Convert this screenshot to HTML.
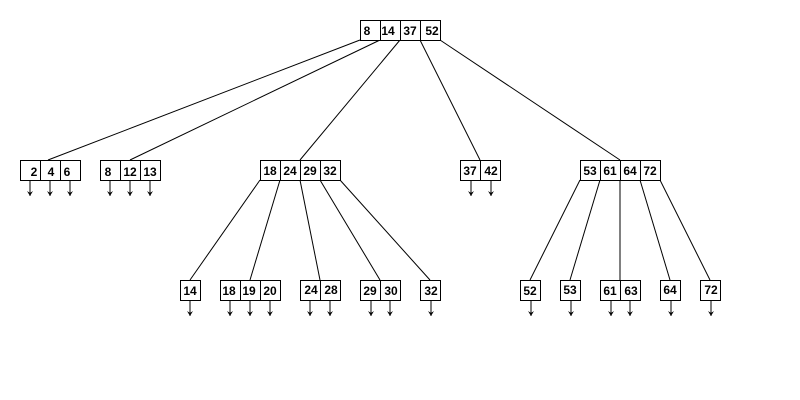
<!DOCTYPE html>
<html><head><meta charset="utf-8"><style>
html,body{margin:0;padding:0;background:#fff;}
svg{display:block}
text{font-family:"Liberation Sans",Arial,sans-serif;font-size:12px;font-weight:bold;fill:#000;text-anchor:middle}
</style></head><body>
<svg width="800" height="400" viewBox="0 0 800 400" xmlns="http://www.w3.org/2000/svg">
<defs><marker id="a" markerWidth="6" markerHeight="6" refX="5" refY="3" orient="auto" markerUnits="userSpaceOnUse"><path d="M0,0 L5,3 L0,6 L2,3 Z" fill="#000"/></marker></defs>
<g stroke="#000" stroke-width="1" fill="none">
<line x1="360" y1="40" x2="48" y2="160"/>
<line x1="380" y1="40" x2="130" y2="160"/>
<line x1="400" y1="40" x2="300" y2="160"/>
<line x1="420" y1="40" x2="480" y2="160"/>
<line x1="440" y1="40" x2="620" y2="160"/>
<line x1="260" y1="180" x2="190" y2="280"/>
<line x1="280" y1="180" x2="250" y2="280"/>
<line x1="300" y1="180" x2="320" y2="280"/>
<line x1="320" y1="180" x2="380" y2="280"/>
<line x1="340" y1="180" x2="430" y2="280"/>
<line x1="580" y1="180" x2="530" y2="280"/>
<line x1="600" y1="180" x2="570" y2="280"/>
<line x1="620" y1="180" x2="620" y2="280"/>
<line x1="640" y1="180" x2="670" y2="280"/>
<line x1="660" y1="180" x2="710" y2="280"/>
</g>
<g stroke="#000" fill="#fff" stroke-width="1">
<rect x="360.5" y="20.5" width="80" height="20"/>
<rect x="20.5" y="160.5" width="60" height="20"/>
<rect x="100.5" y="160.5" width="60" height="20"/>
<rect x="260.5" y="160.5" width="80" height="20"/>
<rect x="460.5" y="160.5" width="40" height="20"/>
<rect x="580.5" y="160.5" width="80" height="20"/>
<rect x="180.5" y="280.5" width="20" height="20"/>
<rect x="220.5" y="280.5" width="60" height="20"/>
<rect x="300.5" y="280.5" width="40" height="20"/>
<rect x="360.5" y="280.5" width="40" height="20"/>
<rect x="420.5" y="280.5" width="20" height="20"/>
<rect x="520.5" y="280.5" width="20" height="20"/>
<rect x="560.5" y="280.5" width="20" height="20"/>
<rect x="600.5" y="280.5" width="40" height="20"/>
<rect x="660.5" y="280.5" width="20" height="20"/>
<rect x="700.5" y="280.5" width="20" height="20"/>
</g>
<g stroke="#000" stroke-width="1">
<line x1="380.5" y1="20" x2="380.5" y2="40"/><line x1="400.5" y1="20" x2="400.5" y2="40"/><line x1="420.5" y1="20" x2="420.5" y2="40"/>
<line x1="40.5" y1="160" x2="40.5" y2="180"/><line x1="60.5" y1="160" x2="60.5" y2="180"/>
<line x1="120.5" y1="160" x2="120.5" y2="180"/><line x1="140.5" y1="160" x2="140.5" y2="180"/>
<line x1="280.5" y1="160" x2="280.5" y2="180"/><line x1="300.5" y1="160" x2="300.5" y2="180"/><line x1="320.5" y1="160" x2="320.5" y2="180"/>
<line x1="480.5" y1="160" x2="480.5" y2="180"/>
<line x1="600.5" y1="160" x2="600.5" y2="180"/><line x1="620.5" y1="160" x2="620.5" y2="180"/><line x1="640.5" y1="160" x2="640.5" y2="180"/>
<line x1="240.5" y1="280" x2="240.5" y2="300"/><line x1="260.5" y1="280" x2="260.5" y2="300"/>
<line x1="320.5" y1="280" x2="320.5" y2="300"/>
<line x1="380.5" y1="280" x2="380.5" y2="300"/>
<line x1="620.5" y1="280" x2="620.5" y2="300"/>
</g>
<g stroke="#000" stroke-width="1" marker-end="url(#a)">
<line x1="30" y1="181" x2="30" y2="196"/><line x1="50" y1="181" x2="50" y2="196"/><line x1="70" y1="181" x2="70" y2="196"/>
<line x1="110" y1="181" x2="110" y2="196"/><line x1="130" y1="181" x2="130" y2="196"/><line x1="150" y1="181" x2="150" y2="196"/>
<line x1="471" y1="181" x2="471" y2="196"/><line x1="491" y1="181" x2="491" y2="196"/>
<line x1="190" y1="301" x2="190" y2="316"/>
<line x1="230" y1="301" x2="230" y2="316"/><line x1="250" y1="301" x2="250" y2="316"/><line x1="270" y1="301" x2="270" y2="316"/>
<line x1="310" y1="301" x2="310" y2="316"/><line x1="330" y1="301" x2="330" y2="316"/>
<line x1="371" y1="301" x2="371" y2="316"/><line x1="390" y1="301" x2="390" y2="316"/>
<line x1="431" y1="301" x2="431" y2="316"/>
<line x1="531" y1="301" x2="531" y2="316"/>
<line x1="571" y1="301" x2="571" y2="316"/>
<line x1="611" y1="301" x2="611" y2="316"/><line x1="630" y1="301" x2="630" y2="316"/>
<line x1="671" y1="301" x2="671" y2="316"/>
<line x1="711" y1="301" x2="711" y2="316"/>
</g>
<g>
<text x="367" y="35">8</text><text x="388" y="35">14</text><text x="410" y="35">37</text><text x="432" y="35">52</text>
<text x="34" y="176">2</text><text x="51" y="176">4</text><text x="67" y="176">6</text>
<text x="108" y="176">8</text><text x="130" y="176">12</text><text x="150" y="176">13</text>
<text x="270" y="175">18</text><text x="290" y="175">24</text><text x="310" y="175">29</text><text x="330" y="175">32</text>
<text x="470" y="175">37</text><text x="491" y="175">42</text>
<text x="590" y="175">53</text><text x="610" y="175">61</text><text x="630" y="175">64</text><text x="650" y="175">72</text>
<text x="190" y="295">14</text>
<text x="229" y="295">18</text><text x="249" y="295">19</text><text x="270" y="295">20</text>
<text x="311" y="294">24</text><text x="331" y="294">28</text>
<text x="370" y="295">29</text><text x="391" y="295">30</text>
<text x="431" y="295">32</text>
<text x="530" y="295">52</text>
<text x="570" y="294">53</text>
<text x="610" y="295">61</text><text x="631" y="295">63</text>
<text x="670" y="294">64</text>
<text x="711" y="294">72</text>
</g>
</svg>
</body></html>
